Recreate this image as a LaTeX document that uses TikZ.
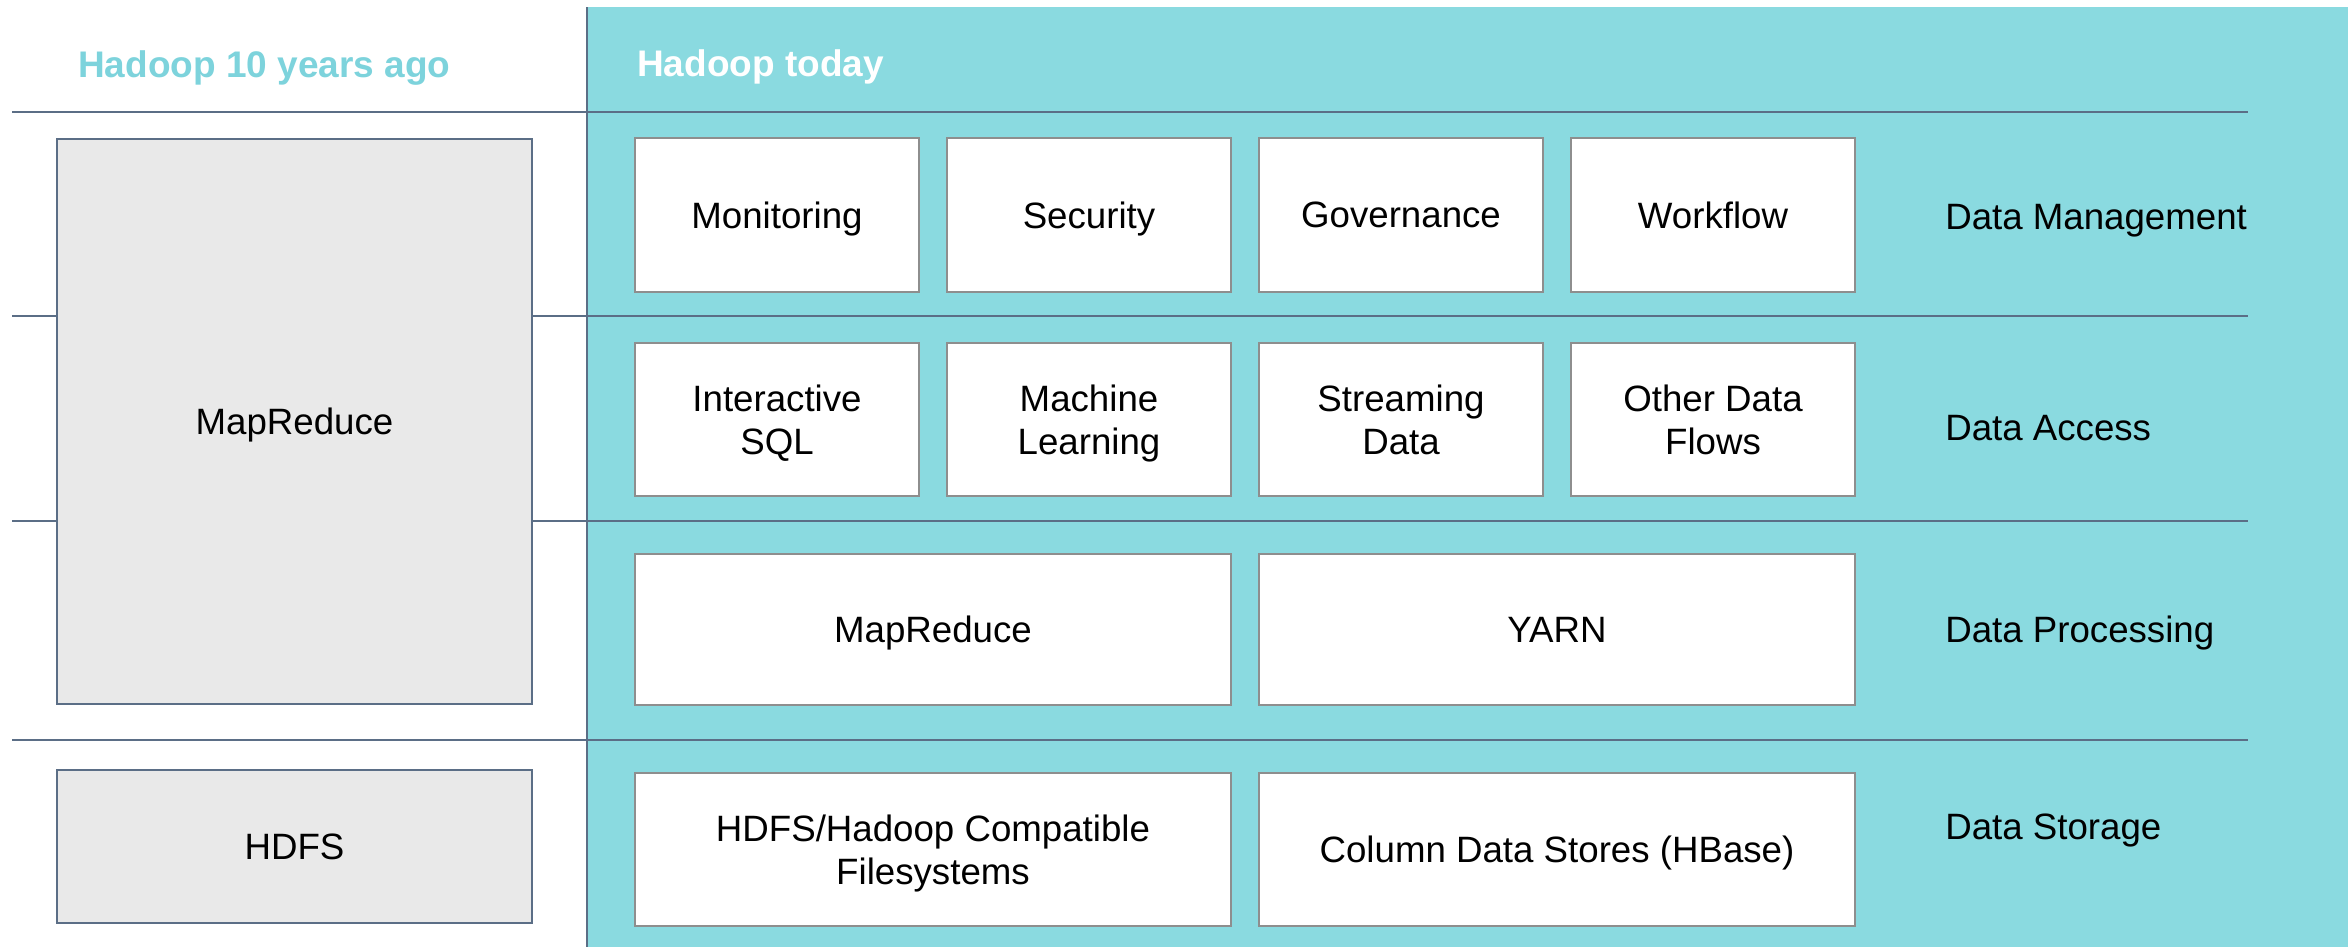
\documentclass[tikz,border=0pt]{standalone}
\usepackage{fontspec}
\setmainfont{Liberation Sans}
\definecolor{teal1}{HTML}{8ADAE0}
\definecolor{tealtxt}{HTML}{7DD3DC}
\definecolor{slate}{HTML}{5B6E86}
\definecolor{boxgray}{HTML}{8E8E8E}
\definecolor{oldfill}{HTML}{E9E9E9}
\tikzset{
  newbox/.style={draw=boxgray, line width=1.5pt, fill=white, inner sep=0pt, align=center,
    text depth=0pt, font=\fontsize{27.5}{32.5}\selectfont},
  oldbox/.style={draw=slate, line width=1.5pt, fill=oldfill, inner sep=0pt, align=center,
    text depth=0pt, font=\fontsize{27.5}{32.5}\selectfont},
  sep/.style={draw=slate, line width=1.5pt},
  lbl/.style={anchor=west, inner sep=0pt, text depth=0pt, font=\fontsize{27.5}{32.5}\selectfont},
  ttl/.style={anchor=base west, inner sep=0pt, font=\fontsize{27.75}{32}\selectfont\bfseries},
  sz/.style 2 args={minimum width=0.75*#1pt, minimum height=0.75*#2pt}
}
\begin{document}
\begin{tikzpicture}[x=0.75pt,y=-0.75pt]
\useasboundingbox (0,0) rectangle (2348,947);
\fill[white] (0,0) rectangle (2348,947);
% teal area
\fill[teal1] (587,7) rectangle (2348,947);
% separators
\coordinate (h1a) at (12,112); \coordinate (h1b) at (2248,112);
\coordinate (h2a) at (12,316); \coordinate (h2b) at (2248,316);
\coordinate (h3a) at (12,521); \coordinate (h3b) at (2248,521);
\coordinate (h4a) at (12,740); \coordinate (h4b) at (2248,740);
\coordinate (vt) at (587,7); \coordinate (vb) at (587,947);
\draw[sep] (h1a) -- (h1b);
\draw[sep] (h2a) -- (h2b);
\draw[sep] (h3a) -- (h3b);
\draw[sep] (h4a) -- (h4b);
\draw[sep] (vt) -- (vb);
% titles
\node[ttl, text=tealtxt] (t1) at (78,77) {Hadoop 10 years ago};
\node[ttl, text=white] (t2) at (637,76) {Hadoop today};
% old boxes
\node[oldbox, sz={475}{565}] (omr) at (294.5,421.5) {MapReduce};
\node[oldbox, sz={475}{153}] (ohdfs) at (294.5,846.5) {HDFS};
% row 1
\node[newbox, sz={284}{154}] (mon) at (777,215) {Monitoring};
\node[newbox, sz={284}{154}] (sec) at (1089,215) {Security};
\node[newbox, sz={284}{154}] (gov) at (1401,215) {Governance};
\node[newbox, sz={284}{154}] (wf) at (1713,215) {Workflow};
% row 2
\node[newbox, sz={284}{153}] (isql) at (777,419.5) {Interactive\\SQL};
\node[newbox, sz={284}{153}] (ml) at (1089,419.5) {Machine\\Learning};
\node[newbox, sz={284}{153}] (sd) at (1401,419.5) {Streaming\\Data};
\node[newbox, sz={284}{153}] (odf) at (1713,419.5) {Other Data\\Flows};
% row 3
\node[newbox, sz={596}{151}] (nmr) at (933,629.5) {MapReduce};
\node[newbox, sz={596}{151}] (yarn) at (1557,629.5) {YARN};
% row 4
\node[newbox, sz={596}{153}] (nhdfs) at (933,849.5) {HDFS/Hadoop Compatible\\Filesystems};
\node[newbox, sz={596}{153}] (col) at (1557,849.5) {Column Data Stores (HBase)};
% row labels
\node[lbl] (l1) at (1945,217) {Data Management};
\node[lbl] (l2) at (1945,428) {Data Access};
\node[lbl] (l3) at (1945,629) {Data Processing};
\node[lbl] (l4) at (1945,827) {Data Storage};
\end{tikzpicture}
\end{document}
